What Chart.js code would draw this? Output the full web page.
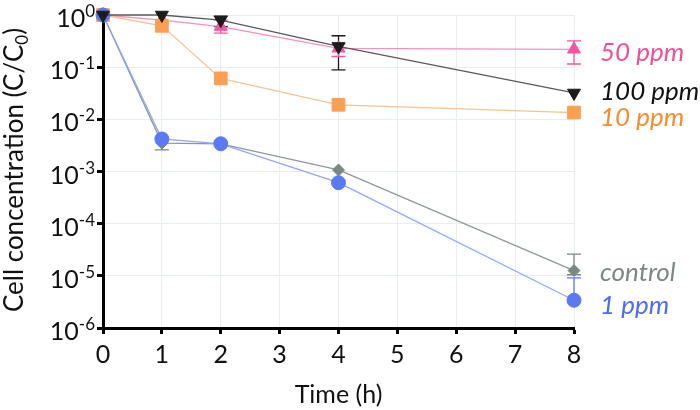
<!DOCTYPE html>
<html>
<head>
<meta charset="utf-8">
<script src="https://cdn.jsdelivr.net/npm/chart.js@4"></script>
<style>
  html, body { margin: 0; padding: 0; background: #fff; }
  #wrap { width: 700px; height: 410px; }
</style>
</head>
<body>
<div id="wrap"><canvas id="cellChart"></canvas></div>
<script>
// time points (h)
const times = [0, 1, 2, 4, 8];

// C/C0 per condition
const controlVals = [1, 3.5e-3, 3.4e-3, 1.07e-3, 1.26e-5];
const ppm1Vals = [1, 4.2e-3, 3.4e-3, 6.1e-4, 3.4e-6];
const ppm10Vals = [1, 0.62, 0.061, 0.019, 0.0135];
const ppm50Vals = [1, 0.8, 0.6, 0.23, 0.22];
const ppm100Vals = [1, 1.0, 0.8, 0.25, 0.032];

// error bars [low, high], null where hidden by the marker
const controlErr = [null, [2.6e-3, 4.5e-3], null, null, [1.05e-5, 2.6e-5]];
const ppm1Err = [null, null, null, null, [3.4e-6, 9.1e-6]];
const ppm10Err = [null, null, null, null, null];
const ppm50Err = [null, null, [0.45, 0.8], [0.16, 0.28], [0.115, 0.32]];
const ppm100Err = [null, null, [0.6, 0.95], [0.089, 0.4], null];

const yExponents = [0, -1, -2, -3, -4, -5, -6];
const xTicks = [0, 1, 2, 3, 4, 5, 6, 7, 8];

const FONT = "Lato, 'Open Sans', sans-serif";

let toPoints = (vals) => vals.map((v, i) => ({ x: times[i], y: v }));

let series = [
  { label: "100 ppm", vals: ppm100Vals, err: ppm100Err, color: "#1c1c1c", line: "#5a5a5a", text: "#111111",
    style: "triangle", rot: 180, r: 7.5, dy: -1 },
  { label: "1 ppm", vals: ppm1Vals, err: ppm1Err, color: "#5b79f3", line: "#92a6f6", text: "#4d6cf0",
    style: "circle", rot: 0, r: 7, dy: 5 },
  { label: "10 ppm", vals: ppm10Vals, err: ppm10Err, color: "#f9a052", line: "#f8c393", text: "#f68d2e",
    style: "rect", rot: 0, r: 9, dy: 5 },
  { label: "50 ppm", vals: ppm50Vals, err: ppm50Err, color: "#f2579e", line: "#f590c0", text: "#ef4f98",
    style: "triangle", rot: 0, r: 7.5, dy: 3 },
  { label: "control", vals: controlVals, err: controlErr, color: "#7b8785", line: "#8e9896", text: "#7b8886",
    style: "rectRot", rot: 0, r: 6, dy: 2 },
];

let errorBars = {
  id: "errorBars",
  beforeDatasetsDraw(chart) {
    const ctx = chart.ctx, xs = chart.scales.x, ys = chart.scales.y;
    ctx.save();
    series.forEach((s) => {
      ctx.strokeStyle = s.color;
      ctx.lineWidth = 1.3;
      s.err.forEach((e, i) => {
        if (!e) return;
        const px = xs.getPixelForValue(times[i]);
        const lo = ys.getPixelForValue(e[0]);
        const hi = ys.getPixelForValue(e[1]);
        ctx.beginPath();
        ctx.moveTo(px, lo); ctx.lineTo(px, hi);
        if (e[0] < s.vals[i]) { ctx.moveTo(px - 7, lo); ctx.lineTo(px + 7, lo); }
        ctx.moveTo(px - 7, hi); ctx.lineTo(px + 7, hi);
        ctx.stroke();
      });
    });
    ctx.restore();
  },
};

let axisText = {
  id: "axisText",
  afterDraw(chart) {
    const ctx = chart.ctx, xs = chart.scales.x, ys = chart.scales.y;
    ctx.save();
    // y tick labels as 10^n
    ctx.fillStyle = "#111";
    ctx.textBaseline = "alphabetic";
    yExponents.forEach((e) => {
      const py = ys.getPixelForValue(Math.pow(10, e));
      const exp = e === 0 ? "0" : "-" + Math.abs(e);
      ctx.font = "17px " + FONT;
      const ew = ctx.measureText(exp).width;
      const right = 95;
      ctx.textAlign = "left";
      ctx.fillText(exp, right - ew, py + 2);
      ctx.font = "25px " + FONT;
      ctx.textAlign = "right";
      ctx.fillText("10", right - ew, py + 12);
    });

    // y title with subscript
    ctx.translate(23, 170);
    ctx.rotate(-Math.PI / 2);
    const main = "Cell concentration (C/C";
    ctx.font = "26px " + FONT;
    const mw = ctx.measureText(main).width;
    ctx.font = "17px " + FONT;
    const sw = ctx.measureText("0").width;
    ctx.font = "26px " + FONT;
    const cw = ctx.measureText(")").width;
    let x0 = -(mw + sw + cw) / 2;
    ctx.textAlign = "left";
    ctx.fillText(main, x0, 0);
    ctx.font = "17px " + FONT;
    ctx.fillText("0", x0 + mw, 5);
    ctx.font = "26px " + FONT;
    ctx.fillText(")", x0 + mw + sw, 0);
    ctx.restore();

    // series labels at the right end
    ctx.save();
    ctx.font = "italic 26px " + FONT;
    ctx.textAlign = "left";
    ctx.textBaseline = "middle";
    series.forEach((s) => {
      const last = s.vals.length - 1;
      const py = ys.getPixelForValue(s.vals[last]);
      ctx.fillStyle = s.text;
      ctx.fillText(s.label, 600, py + s.dy);
    });
    ctx.restore();
  },
};

new Chart(document.getElementById("cellChart"), {
  type: "line",
  data: {
    datasets: series.map((s) => ({
      label: s.label,
      data: toPoints(s.vals),
      borderColor: s.line,
      backgroundColor: s.color,
      borderWidth: 1.3,
      pointStyle: s.style,
      pointRotation: s.rot,
      pointRadius: s.r,
      pointBackgroundColor: s.color,
      pointBorderColor: s.color,
      pointBorderWidth: 1,
      tension: 0,
      clip: false,
    })),
  },
  options: {
    responsive: true,
    maintainAspectRatio: false,
    animation: false,
    layout: { padding: { top: 15, right: 126, left: 0, bottom: 0 } },
    plugins: { legend: { display: false }, tooltip: { enabled: false } },
    scales: {
      x: {
        type: "linear",
        min: 0,
        max: 8,
        afterBuildTicks: (scale) => {
          scale.ticks = xTicks.map((v) => ({ value: v }));
        },
        afterFit: (scale) => {
          scale.height = 82;
        },
        ticks: { color: "#111", font: { family: FONT, size: 25 }, padding: 6 },
        grid: { color: "#e8eded", lineWidth: 1, tickColor: "#000", tickLength: 6, tickWidth: 3 },
        border: { color: "#000", width: 3 },
        title: {
          display: true,
          text: "Time (h)",
          color: "#111",
          font: { family: FONT, size: 25 },
          padding: { top: 2, bottom: 0 },
        },
      },
      y: {
        type: "logarithmic",
        min: 1e-6,
        max: 1,
        afterBuildTicks: (scale) => {
          scale.ticks = yExponents.map((e) => ({ value: Math.pow(10, e) }));
        },
        afterFit: (scale) => {
          scale.width = 103;
        },
        ticks: { display: false },
        grid: { color: "#e8eded", lineWidth: 1, tickColor: "#000", tickLength: 6, tickWidth: 3 },
        border: { color: "#000", width: 3 },
      },
    },
  },
  plugins: [errorBars, axisText],
});
</script>
</body>
</html>
